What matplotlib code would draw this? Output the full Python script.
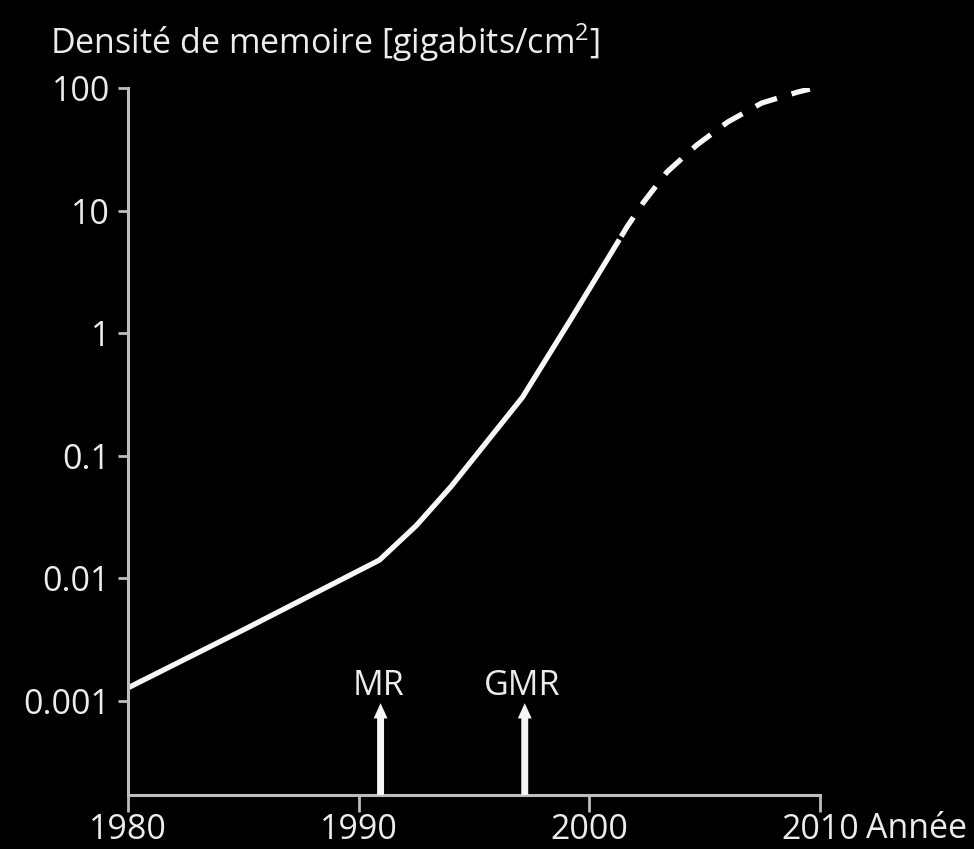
import matplotlib
matplotlib.use("Agg")
import matplotlib.pyplot as plt
import numpy as np

# ---- data ----
solid_years = [1980.0, 1985.0, 1990.9, 1992.5, 1994.0, 1997.1, 1999.2, 2001.3]
solid_density = [0.00128, 0.0038, 0.0141, 0.027, 0.056, 0.30, 1.3, 5.8]

proj_years = [2001.3, 2001.63, 2002.32, 2003.36, 2004.66, 2006.0, 2007.48, 2009.04, 2009.56]
proj_density = [5.8, 7.35, 11.5, 20.6, 34.3, 52.8, 75.5, 92.7, 98.0]

event_labels = ["MR", "GMR"]
event_years = [1990.95, 1997.2]

x_ticks = [1980, 1990, 2000, 2010]
y_ticks = [0.001, 0.01, 0.1, 1, 10, 100]
y_ticklabels = ["0.001", "0.01", "0.1", "1", "10", "100"]

title_text = "Densité de memoire [gigabits/cm"
x_label = "Année"

# ---- style ----
FONT = "Open Sans"
plt.rcParams["font.family"] = [FONT, "DejaVu Sans"]
plt.rcParams["mathtext.fontset"] = "custom"
plt.rcParams["mathtext.rm"] = FONT
FS = 24.5
TXT = "#ececec"
AX = "#bdbdbd"
LINE = "#f7f7f7"

fig = plt.figure(figsize=(9.74, 8.49), dpi=100, facecolor="black")
ax = fig.add_axes([128 / 974, 1 - 795 / 849, (820 - 128) / 974, (795 - 88) / 849])
ax.set_facecolor("black")
ax.set_yscale("log")
ax.set_xlim(1980, 2010)
ax.set_ylim(1.71e-4, 100)

ax.plot(solid_years, solid_density, color=LINE, lw=3.8, solid_capstyle="butt",
        solid_joinstyle="round")
ax.plot(proj_years, proj_density, color=LINE, lw=3.8, linestyle=(6.5, (4.3, 2.9)),
        dash_capstyle="butt")

for lab, yr in zip(event_labels, event_years):
    ax.annotate("", xy=(yr, 0.00096), xytext=(yr, 1.71e-4),
                arrowprops=dict(facecolor=LINE, edgecolor="none", width=5,
                                headwidth=10, headlength=11, shrink=0))
    ax.text(yr - 0.1, 0.00112, lab, color=TXT, fontsize=FS, ha="center",
            va="baseline")

for s in ["top", "right"]:
    ax.spines[s].set_visible(False)
for s in ["left", "bottom"]:
    ax.spines[s].set_color(AX)
    ax.spines[s].set_linewidth(2.2)

ax.set_xticks(x_ticks)
ax.set_xticklabels([str(t) for t in x_ticks])
ax.set_yticks(y_ticks)
ax.set_yticklabels(y_ticklabels)
ax.minorticks_off()
ax.tick_params(axis="y", colors=AX, labelcolor=TXT, labelsize=FS, length=7,
               width=2, pad=6)
ax.tick_params(axis="x", colors=AX, labelcolor=TXT, labelsize=FS, length=12,
               width=2, pad=1)

fig.text(866 / 974, 1 - 838 / 849, x_label, color=TXT, fontsize=FS,
         ha="left", va="baseline")
fig.text(50 / 974, 1 - 54 / 849, title_text + r"$^{2}$" + "]", color=TXT,
         fontsize=FS, ha="left", va="baseline")

fig.savefig("out.png", dpi=100, facecolor="black")
